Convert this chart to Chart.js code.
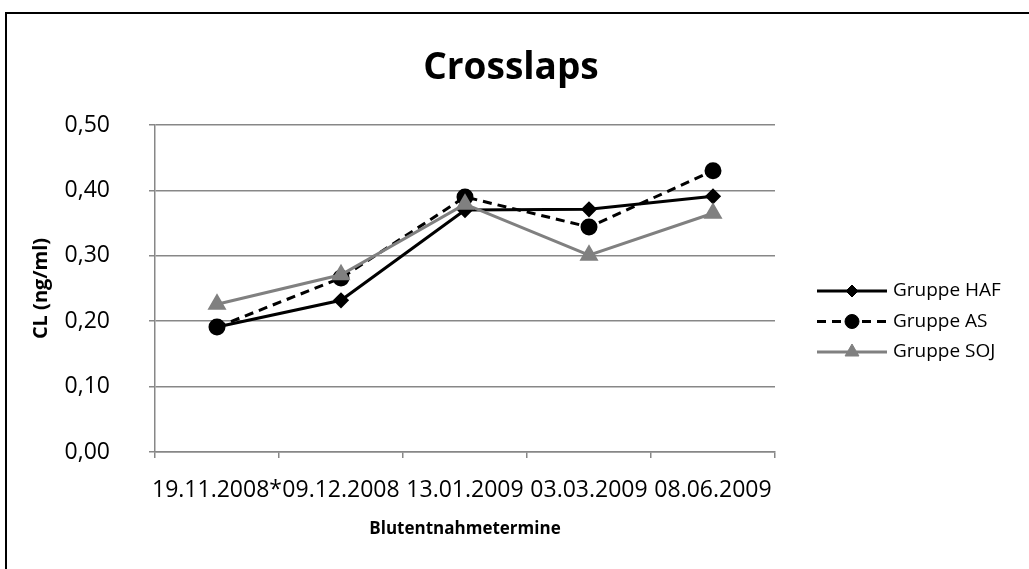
<!DOCTYPE html>
<html>
<head>
<meta charset="utf-8">
<script src="https://cdn.jsdelivr.net/npm/chart.js@4"></script>
<style>
  body { margin: 0; background: #fff; }
  canvas { display: block; }
</style>
</head>
<body>
<canvas id="myChart" width="1029" height="569"></canvas>
<script>
var dates = ['19.11.2008*', '09.12.2008', '13.01.2009', '03.03.2009', '08.06.2009']
var gruppeHAF = [0.191, 0.232, 0.370, 0.371, 0.391]
var gruppeAS = [0.191, 0.266, 0.390, 0.344, 0.430]
var gruppeSOJ = [0.226, 0.271, 0.379, 0.301, 0.365]
var yTicks = [0, 0.1, 0.2, 0.3, 0.4, 0.5]

var FONT = "'Open Sans', 'DejaVu Sans', sans-serif"
var GRID = '#878787'

// frame round the whole chart, like the Excel chart border
var framePlugin = {
  id: 'frame',
  beforeDraw: function (chart) {
    var ctx = chart.ctx
    ctx.save()
    ctx.fillStyle = '#fff'
    ctx.fillRect(0, 0, chart.width, chart.height)
    ctx.strokeStyle = '#000'
    ctx.lineWidth = 2
    ctx.strokeRect(6, 13, chart.width + 20, chart.height + 20)
    ctx.restore()
  }
}

// title + legend drawn by hand (legend needs line with marker)
var extrasPlugin = {
  id: 'extras',
  afterDraw: function (chart) {
    var ctx = chart.ctx
    ctx.save()
    ctx.fillStyle = '#000'
    ctx.textAlign = 'center'
    ctx.textBaseline = 'middle'
    ctx.font = 'bold 37px ' + FONT
    ctx.fillText('Crosslaps', 511, 68)

    ctx.font = '19px ' + FONT
    ctx.textAlign = 'left'
    chart.data.datasets.forEach(function (ds, i) {
      var y = 291 + i * 30.5
      ctx.strokeStyle = ds.borderColor
      ctx.lineWidth = ds.borderWidth
      ctx.setLineDash(ds.borderDash || [])
      ctx.beginPath()
      ctx.moveTo(817, y)
      ctx.lineTo(887, y)
      ctx.stroke()
      ctx.setLineDash([])
      ctx.fillStyle = ds.pointBackgroundColor
      ctx.strokeStyle = ds.pointBorderColor
      ctx.lineWidth = 1
      Chart.helpers.drawPoint(ctx, {
        pointStyle: ds.pointStyle,
        radius: ds.pointRadius,
        borderWidth: 1,
        rotation: 0
      }, 852, y)
      ctx.fillStyle = '#000'
      ctx.fillText(ds.label, 893, y)
    })
    ctx.restore()
  }
}

var ctx = document.getElementById('myChart')
var myChart = new Chart(ctx, {
  type: 'line',
  data: {
    labels: dates,
    datasets: [{
      label: 'Gruppe HAF',
      data: gruppeHAF,
      borderColor: '#000',
      backgroundColor: '#000',
      pointBackgroundColor: '#000',
      pointBorderColor: '#000',
      borderWidth: 3,
      pointStyle: 'rectRot',
      pointRadius: 6,
      order: 2
    }, {
      label: 'Gruppe AS',
      data: gruppeAS,
      borderColor: '#000',
      backgroundColor: '#000',
      pointBackgroundColor: '#000',
      pointBorderColor: '#000',
      borderWidth: 3,
      borderDash: [9, 6],
      pointStyle: 'circle',
      pointRadius: 7,
      order: 1
    }, {
      label: 'Gruppe SOJ',
      data: gruppeSOJ,
      borderColor: '#808080',
      backgroundColor: '#808080',
      pointBackgroundColor: '#808080',
      pointBorderColor: '#808080',
      borderWidth: 3,
      pointStyle: 'triangle',
      pointRadius: 8,
      order: 0
    }]
  },
  options: {
    responsive: false,
    animation: false,
    layout: { padding: { top: 125, right: 254, bottom: 0, left: 0 } },
    plugins: {
      legend: { display: false },
      tooltip: { enabled: false }
    },
    elements: { line: { tension: 0 } },
    scales: {
      x: {
        offset: true,
        afterFit: function (s) { s.height = 117 },
        grid: { display: true, drawOnChartArea: false, offset: true, tickLength: 6, color: GRID, lineWidth: 1.5 },
        border: { display: true, color: GRID, width: 1.5 },
        ticks: { color: '#000', padding: 19, maxRotation: 0, autoSkip: false, font: { family: FONT, size: 23 } },
        title: { display: true, text: 'Blutentnahmetermine', color: '#000', padding: { top: 0, bottom: 30 }, font: { family: FONT, size: 17, weight: 'bold' } }
      },
      y: {
        min: 0,
        max: 0.5,
        afterFit: function (s) { s.width = 155 },
        afterBuildTicks: function (s) { s.ticks = yTicks.map(function (v) { return { value: v } }) },
        grid: { color: GRID, lineWidth: 1.5, tickLength: 6 },
        border: { display: true, color: GRID, width: 1.5 },
        ticks: {
          color: '#000',
          padding: 39,
          font: { family: FONT, size: 23 },
          callback: function (v) { return v.toFixed(2).replace('.', ',') }
        },
        title: { display: true, text: 'CL (ng/ml)', color: '#000', padding: { top: 29, bottom: 0 }, font: { family: FONT, size: 20, weight: 'bold' } }
      }
    }
  },
  plugins: [framePlugin, extrasPlugin]
})
</script>
</body>
</html>
